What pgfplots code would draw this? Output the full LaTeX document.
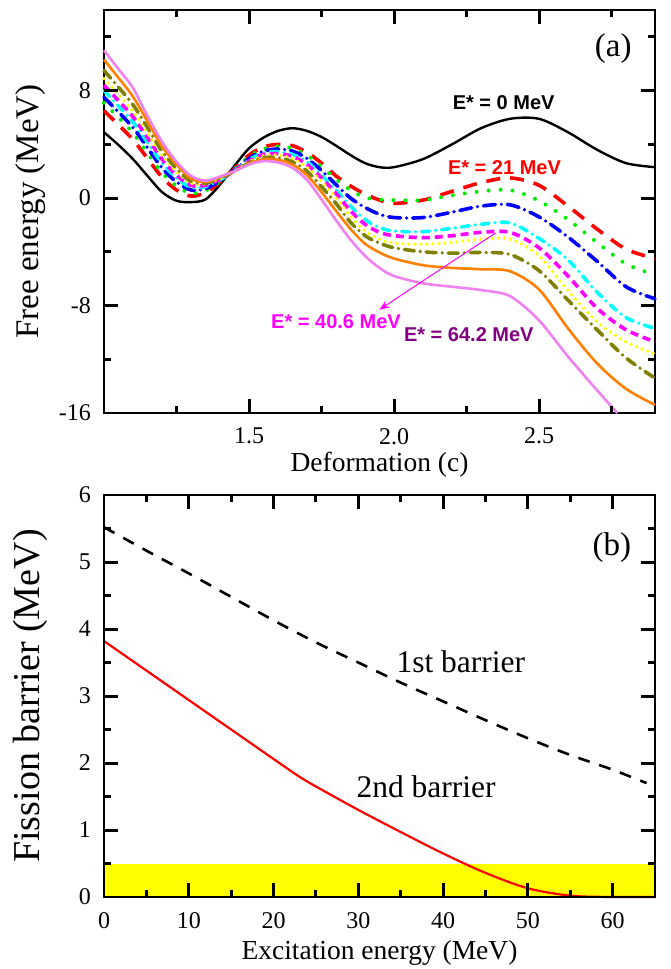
\documentclass[border=0pt]{standalone}
\usepackage{pgfplots}
\pgfplotsset{compat=1.18}
\usepackage{fontspec}
\setmainfont{Liberation Serif}
\newfontfamily\arialf{Liberation Sans}
\usetikzlibrary{arrows.meta}
\definecolor{olivec}{RGB}{128,128,0}
\definecolor{orangec}{RGB}{255,128,0}
\definecolor{pinkc}{RGB}{238,130,238}
\definecolor{purplec}{RGB}{128,0,128}
\definecolor{greenc}{RGB}{0,235,0}
\definecolor{yellowc}{RGB}{255,255,0}
\definecolor{cyanc}{RGB}{0,255,255}
\definecolor{magc}{RGB}{255,0,255}
\definecolor{redc}{RGB}{255,0,0}
\definecolor{bluec}{RGB}{0,0,255}

\pgfplotstableread{
c     e0    e21   g     b     cy    m     y     o     or
1.00  4.9   6.5   7.1   7.5   8.0   8.4   8.9   9.5   10.3
1.05  3.95  5.45  6.0   6.4   6.85  7.25  7.7   8.25  8.95
1.10  2.9   4.35  4.85  5.25  5.65  6.05  6.45  6.95  7.55
1.15  1.65  2.95  3.35  3.75  4.15  4.5   4.85  5.25  5.7
1.20  0.45  1.55  1.9   2.25  2.6   2.9   3.2   3.5   3.85
1.25  -0.2  0.6   0.9   1.2   1.5   1.7   1.95  2.2   2.5
1.30  -0.3  0.15  0.35  0.6   0.8   0.95  1.1   1.25  1.45
1.35  -0.1  0.4   0.55  0.7   0.85  0.95  1.05  1.1   1.2
1.40  1.0   1.2   1.25  1.3   1.35  1.4   1.45  1.5   1.55
1.45  2.4   2.2   2.15  2.1   2.05  2.05  2.0   2.0   2.0
1.50  3.7   3.2   3.1   2.95  2.85  2.75  2.7   2.6   2.55
1.55  4.5   3.8   3.65  3.5   3.35  3.25  3.15  3.0   2.9
1.60  5.0   4.0   3.85  3.65  3.45  3.3   3.2   3.0   2.85
1.65  5.2   3.9   3.7   3.5   3.25  3.1   2.95  2.7   2.5
1.70  5.0   3.4   3.2   2.95  2.7   2.5   2.3   2.0   1.7
1.75  4.55  2.6   2.35  2.05  1.7   1.5   1.25  0.85  0.45
1.80  3.9   1.65  1.4   1.0   0.6   0.35  0.05  -0.4  -0.95
1.85  3.2   0.9   0.6   0.0   -0.6  -0.95 -1.35 -1.8  -2.3
1.90  2.6   0.3   0.05  -0.7  -1.6  -1.95 -2.45 -2.8  -3.4
1.95  2.3   -0.15 -0.1  -1.2  -2.2  -2.55 -3.05 -3.35 -4.05
2.00  2.3   -0.4  -0.15 -1.45 -2.45 -2.8  -3.35 -3.7  -4.5
2.10  2.9   -0.15 -0.15 -1.45 -2.5  -2.95 -3.45 -4.0  -5.0
2.20  4.0   0.5   0.2   -1.05 -2.25 -2.8  -3.3  -4.1  -5.2
2.30  5.2   1.15  0.5   -0.6  -1.95 -2.55 -3.05 -4.05 -5.3
2.40  5.9   1.5   0.6   -0.5  -1.85 -2.55 -3.05 -4.2  -5.45
2.50  5.9   0.95  -0.2  -1.4  -3.0  -3.7  -4.3  -5.4  -6.8
2.60  4.9   -0.6  -1.6  -2.9  -4.6  -5.8  -6.9  -7.6  -9.7
2.70  3.6   -2.3  -3.3  -4.7  -7.0  -8.2  -9.2  -9.8  -12.3
2.80  2.6   -3.8  -4.9  -6.6  -8.9  -9.8  -10.7 -11.9 -14.2
2.90  2.3   -4.5  -5.7  -7.5  -9.7  -10.7 -11.6 -13.4 -15.4
}\freeen

\pgfplotstableread{
c     p
1.00  11.0
1.05  9.6
1.10  8.2
1.15  6.1
1.20  4.2
1.25  2.7
1.30  1.65
1.35  1.3
1.40  1.6
1.45  2.0
1.50  2.5
1.55  2.75
1.60  2.65
1.65  2.25
1.70  1.35
1.75  -0.1
1.80  -1.65
1.85  -3.1
1.90  -4.3
1.95  -5.2
2.00  -5.8
2.10  -6.35
2.20  -6.6
2.30  -6.85
2.40  -7.3
2.50  -9.1
2.60  -11.8
2.70  -14.3
2.77  -16.0
}\pinktab

\pgfplotstableread{
x     b1
0     5.52
5     5.17
10    4.83
15    4.48
20    4.13
25    3.80
30    3.50
35    3.20
40    2.92
45    2.64
50    2.37
55    2.12
60    1.90
64    1.70
}\firstb

\pgfplotstableread{
x     b2
0     3.82
5     3.38
10    2.94
15    2.50
20    2.06
23    1.80
25    1.65
30    1.30
35    0.97
40    0.65
45    0.36
50    0.13
55    0.02
60    0.0
65    0.0
}\secondb

\pgfplotsset{
  panel/.style={
    scale only axis,
    width=275.5pt,
    clip=false,
    axis line style={line width=1.2pt},
    tick style={line width=1.2pt, black},
    major tick length=7pt,
    minor tick length=3.5pt,
    ticklabel style={font=\fontsize{12}{14}\selectfont},
    xticklabel style={yshift=-4pt},
    yticklabel style={xshift=-3pt},
  }
}

\begin{document}
\begin{tikzpicture}
\path[use as bounding box] (0,0) rectangle (335pt,-484.5pt);
% ---------------- top panel
\begin{axis}[
  panel,
  at={(52pt,-206.5pt)}, anchor=south west,
  height=201.5pt,
  xmin=1.0, xmax=2.9, ymin=-16, ymax=14,
  xtick={1.5,2.0,2.5}, xticklabels={1.5,2.0,2.5},
  minor xtick={1.25,1.75,2.25,2.75},
  ytick={-16,-8,0,8}, yticklabels={-16,-8,0,8},
  minor ytick={-12,-4,4,12},
  xlabel={Deformation (c)},
  ylabel={Free energy (MeV)},
  xlabel style={font=\fontsize{13.75}{15}\selectfont, at={(axis description cs:0.5,-0.129)}, anchor=center},
  ylabel style={font=\fontsize{16.5}{18}\selectfont, at={(axis description cs:-0.134,0.5)}, anchor=center, rotate=0},
]
\addplot[black, line width=1.2pt, smooth] table[x=c,y=e0] {\freeen};
\addplot[redc, line width=1.8pt, dash pattern=on 7pt off 5pt, smooth] table[x=c,y=e21] {\freeen};
\addplot[greenc, line width=2pt, line cap=round, dash pattern=on 0pt off 6pt, smooth] table[x=c,y=g] {\freeen};
\addplot[bluec, line width=1.8pt, line cap=round, dash pattern=on 6pt off 3pt on 0pt off 3pt, smooth] table[x=c,y=b] {\freeen};
\addplot[cyanc, line width=1.8pt, line cap=round, dash pattern=on 4pt off 3pt on 0pt off 3pt, smooth] table[x=c,y=cy] {\freeen};
\addplot[magc, line width=1.8pt, dash pattern=on 4pt off 2.5pt, smooth] table[x=c,y=m] {\freeen};
\addplot[yellowc, line width=1.8pt, line cap=round, dash pattern=on 0pt off 3pt, smooth] table[x=c,y=y] {\freeen};
\addplot[olivec, line width=1.8pt, line cap=round, dash pattern=on 5pt off 3pt on 0pt off 3pt, smooth] table[x=c,y=o] {\freeen};
\addplot[orangec, line width=1.3pt, smooth] table[x=c,y=or] {\freeen};
\addplot[pinkc, line width=1.3pt, smooth] table[x=c,y=p] {\pinktab};
\node[font=\fontsize{16.5}{18}\selectfont] at (axis cs:2.756,11.16) {(a)};
\node[font=\arialf\bfseries\fontsize{10}{12}\selectfont, black] at (axis cs:2.378,7.07) {E* = 0 MeV};
\node[font=\arialf\bfseries\fontsize{10}{12}\selectfont, redc] at (axis cs:2.381,2.3) {E* = 21 MeV};
\node[font=\arialf\bfseries\fontsize{10}{12}\selectfont, magc] at (axis cs:1.80,-9.2) {E* = 40.6 MeV};
\node[font=\arialf\bfseries\fontsize{10}{12}\selectfont, purplec] at (axis cs:2.258,-10.2) {E* = 64.2 MeV};
\draw[magc, line width=0.5pt, -{Stealth[length=5pt,width=4pt]}] (axis cs:2.35,-2.6) -- (axis cs:1.95,-8.3);
% tick marks (lengths in data units: about 7pt and 3.5pt)
\draw[black, line width=1.5pt]
  (axis cs:1.25,-16) -- (axis cs:1.25,-15.48) (axis cs:1.25,14) -- (axis cs:1.25,13.48)
  (axis cs:1.75,-16) -- (axis cs:1.75,-15.48) (axis cs:1.75,14) -- (axis cs:1.75,13.48)
  (axis cs:2.25,-16) -- (axis cs:2.25,-15.48) (axis cs:2.25,14) -- (axis cs:2.25,13.48)
  (axis cs:2.75,-16) -- (axis cs:2.75,-15.48) (axis cs:2.75,14) -- (axis cs:2.75,13.48)
  (axis cs:1.5,-16) -- (axis cs:1.5,-14.96) (axis cs:1.5,14) -- (axis cs:1.5,12.96)
  (axis cs:2.0,-16) -- (axis cs:2.0,-14.96) (axis cs:2.0,14) -- (axis cs:2.0,12.96)
  (axis cs:2.5,-16) -- (axis cs:2.5,-14.96) (axis cs:2.5,14) -- (axis cs:2.5,12.96)
  (axis cs:1.0,-12) -- (axis cs:1.024,-12) (axis cs:2.9,-12) -- (axis cs:2.876,-12)
  (axis cs:1.0,-4) -- (axis cs:1.024,-4) (axis cs:2.9,-4) -- (axis cs:2.876,-4)
  (axis cs:1.0,4) -- (axis cs:1.024,4) (axis cs:2.9,4) -- (axis cs:2.876,4)
  (axis cs:1.0,12) -- (axis cs:1.024,12) (axis cs:2.9,12) -- (axis cs:2.876,12)
  (axis cs:1.0,-8) -- (axis cs:1.048,-8) (axis cs:2.9,-8) -- (axis cs:2.852,-8)
  (axis cs:1.0,0) -- (axis cs:1.048,0) (axis cs:2.9,0) -- (axis cs:2.852,0)
  (axis cs:1.0,8) -- (axis cs:1.048,8) (axis cs:2.9,8) -- (axis cs:2.852,8);
\end{axis}
% ---------------- bottom panel
\begin{axis}[
  panel,
  at={(52pt,-448.5pt)}, anchor=south west,
  height=201pt,
  axis on top,
  xmin=0, xmax=65, ymin=0, ymax=6,
  xtick={0,10,20,30,40,50,60}, xticklabels={0,10,20,30,40,50,60},
  minor xtick={5,15,25,35,45,55},
  ytick={0,1,2,3,4,5,6}, yticklabels={0,1,2,3,4,5,6},
  minor ytick={0.5,1.5,2.5,3.5,4.5,5.5},
  xlabel={Excitation energy (MeV)},
  ylabel={Fission barrier (MeV)},
  xlabel style={font=\fontsize{13.75}{15}\selectfont, at={(axis description cs:0.5,-0.139)}, anchor=center},
  ylabel style={font=\fontsize{19}{21}\selectfont, at={(axis description cs:-0.134,0.5)}, anchor=center, rotate=0},
]
\addplot[fill=yellowc, draw=none] coordinates {(0,0) (65,0) (65,0.5) (0,0.5)} -- cycle;
\addplot[black, line width=1.3pt, dash pattern=on 6pt off 5pt, smooth] table[x=x,y=b1] {\firstb};
\addplot[redc, line width=1.1pt, smooth] table[x=x,y=b2] {\secondb};
\node[font=\fontsize{16.5}{18}\selectfont] at (axis cs:59.9,5.21) {(b)};
\node[font=\fontsize{15.75}{18}\selectfont] at (axis cs:42.1,3.51) {1st barrier};
\node[font=\fontsize{15.75}{18}\selectfont] at (axis cs:38.0,1.64) {2nd barrier};
\draw[black, line width=1.5pt]
  (axis cs:5,0) -- (axis cs:5,0.104) (axis cs:5,6) -- (axis cs:5,5.896)
  (axis cs:15,0) -- (axis cs:15,0.104) (axis cs:15,6) -- (axis cs:15,5.896)
  (axis cs:25,0) -- (axis cs:25,0.104) (axis cs:25,6) -- (axis cs:25,5.896)
  (axis cs:35,0) -- (axis cs:35,0.104) (axis cs:35,6) -- (axis cs:35,5.896)
  (axis cs:45,0) -- (axis cs:45,0.104) (axis cs:45,6) -- (axis cs:45,5.896)
  (axis cs:55,0) -- (axis cs:55,0.104) (axis cs:55,6) -- (axis cs:55,5.896)
  (axis cs:10,0) -- (axis cs:10,0.209) (axis cs:10,6) -- (axis cs:10,5.791)
  (axis cs:20,0) -- (axis cs:20,0.209) (axis cs:20,6) -- (axis cs:20,5.791)
  (axis cs:30,0) -- (axis cs:30,0.209) (axis cs:30,6) -- (axis cs:30,5.791)
  (axis cs:40,0) -- (axis cs:40,0.209) (axis cs:40,6) -- (axis cs:40,5.791)
  (axis cs:50,0) -- (axis cs:50,0.209) (axis cs:50,6) -- (axis cs:50,5.791)
  (axis cs:60,0) -- (axis cs:60,0.209) (axis cs:60,6) -- (axis cs:60,5.791)
  (axis cs:0,0.5) -- (axis cs:0.83,0.5) (axis cs:65,0.5) -- (axis cs:64.17,0.5)
  (axis cs:0,1.5) -- (axis cs:0.83,1.5) (axis cs:65,1.5) -- (axis cs:64.17,1.5)
  (axis cs:0,2.5) -- (axis cs:0.83,2.5) (axis cs:65,2.5) -- (axis cs:64.17,2.5)
  (axis cs:0,3.5) -- (axis cs:0.83,3.5) (axis cs:65,3.5) -- (axis cs:64.17,3.5)
  (axis cs:0,4.5) -- (axis cs:0.83,4.5) (axis cs:65,4.5) -- (axis cs:64.17,4.5)
  (axis cs:0,5.5) -- (axis cs:0.83,5.5) (axis cs:65,5.5) -- (axis cs:64.17,5.5)
  (axis cs:0,1) -- (axis cs:1.65,1) (axis cs:65,1) -- (axis cs:63.35,1)
  (axis cs:0,2) -- (axis cs:1.65,2) (axis cs:65,2) -- (axis cs:63.35,2)
  (axis cs:0,3) -- (axis cs:1.65,3) (axis cs:65,3) -- (axis cs:63.35,3)
  (axis cs:0,4) -- (axis cs:1.65,4) (axis cs:65,4) -- (axis cs:63.35,4)
  (axis cs:0,5) -- (axis cs:1.65,5) (axis cs:65,5) -- (axis cs:63.35,5);
\end{axis}
\end{tikzpicture}
\end{document}
